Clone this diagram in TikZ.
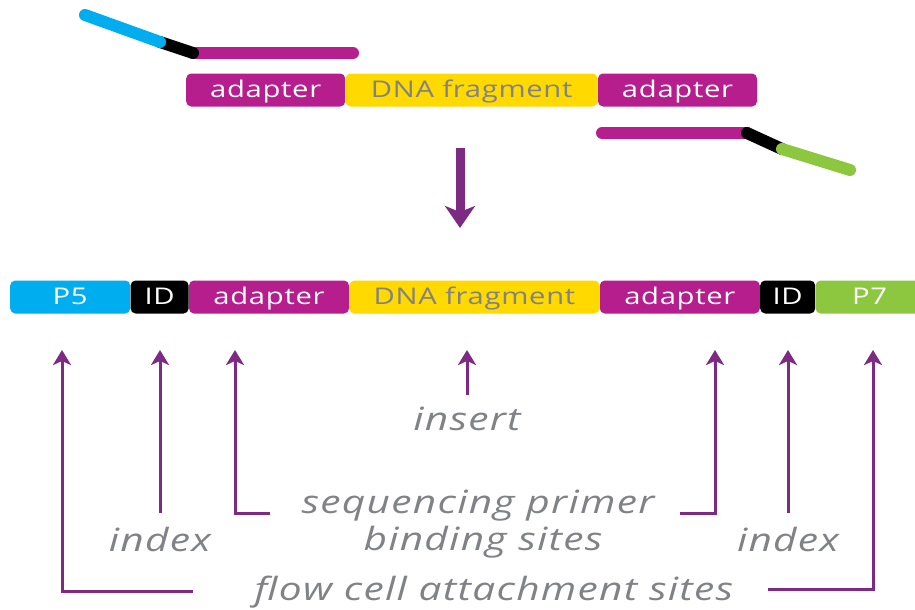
\documentclass[tikz,border=0pt]{standalone}
\usepackage{fontspec}
\setmainfont{Open Sans}
\newfontfamily\boxfont{Open Sans}[FakeStretch=1.27,LetterSpace=3]
\newfontfamily\labelfont{Open Sans}[FakeStretch=1.27,LetterSpace=4]
\usepackage{xcolor}
\definecolor{LibMagenta}{HTML}{B51E8C}
\definecolor{LibCyan}{HTML}{00AEEF}
\definecolor{LibYellow}{HTML}{FFD900}
\definecolor{LibGreen}{HTML}{8DC63F}
\definecolor{LibPurple}{HTML}{7D2A82}
\definecolor{LibGray}{HTML}{808285}
\usetikzlibrary{positioning,arrows.meta}
\tikzset{
  seg/.style={rounded corners=5pt,inner sep=0pt,minimum height=33pt,text height=17pt,text depth=3pt,text=white,font=\boxfont\fontsize{23}{26}\selectfont},
  segadapter/.style={seg,fill=LibMagenta,minimum width=159pt},
  segdna/.style={seg,fill=LibYellow,text=LibGray,minimum width=252pt},
  segid/.style={seg,fill=black},
  segp5/.style={seg,fill=LibCyan},
  segp7/.style={seg,fill=LibGreen},
  oligo/.style={line width=12pt,line cap=round},
  pointer/.style={-{Stealth[length=15pt,width=18pt,inset=4pt]},draw=LibPurple,line width=3pt},
  bigpointer/.style={-{Stealth[length=22pt,width=30pt,inset=6pt]},draw=LibPurple,line width=9pt},
  sitelabel/.style={font=\labelfont\itshape\fontsize{32}{38}\selectfont,text=LibGray,inner sep=0pt,anchor=base}
}
\begin{document}
\begin{tikzpicture}[x=1pt,y=-1pt]
  \useasboundingbox (0,0) rectangle (915,610);
  % adapter-ligated fragment
  \node[segadapter,anchor=west] (topadl) at (186,90) {adapter};
  \node[segdna,right=0pt of topadl] (topdna) {DNA fragment};
  \node[segadapter,right=0pt of topdna] (topadr) {adapter};
  % index oligos
  \coordinate (olA1) at (85,15);
  \coordinate (olA2) at (160,42);
  \coordinate (olA3) at (193,53);
  \coordinate (olA4) at (353,53);
  \draw[oligo,LibMagenta] (olA3) -- (olA4);
  \draw[oligo,black] (olA2) -- (olA3);
  \draw[oligo,LibCyan] (olA1) -- (olA2);
  \coordinate (olB1) at (602,133);
  \coordinate (olB2) at (747,133);
  \coordinate (olB3) at (782,149);
  \coordinate (olB4) at (850,170);
  \draw[oligo,LibMagenta] (olB1) -- (olB2);
  \draw[oligo,black] (olB2) -- (olB3);
  \draw[oligo,LibGreen] (olB3) -- (olB4);
  % final library molecule
  \node[segp5,minimum width=120pt,anchor=west] (p5) at (10,297) {P5};
  \node[segid,minimum width=58pt,right=0pt of p5] (idl) {ID};
  \node[segadapter,minimum width=160pt,right=0pt of idl] (adl) {adapter};
  \node[segdna,minimum width=250pt,right=0pt of adl] (dna) {DNA fragment};
  \node[segadapter,minimum width=160pt,right=0pt of dna] (adr) {adapter};
  \node[segid,minimum width=55pt,right=0pt of adr] (idr) {ID};
  \node[segp7,minimum width=108pt,right=0pt of idr] (p7) {P7};
  \coordinate (downtop) at (460,148);
  \coordinate (downtip) at (460,228);
  \draw[bigpointer] (downtop) -- (downtip);
  % labels
  \node[sitelabel] (insert) at (467,430) {insert};
  \node[sitelabel] (primer) at (478,513) {sequencing primer};
  \node[sitelabel] (binding) at (483,550) {binding sites};
  \node[sitelabel] (indexl) at (160,551) {index};
  \node[sitelabel] (indexr) at (788,551) {index};
  \node[sitelabel] (flow) at (494,600) {flow cell attachment sites};
  \coordinate (tipP5) at (62,350);
  \coordinate (tipIDl) at (160,350);
  \coordinate (tipADl) at (235,350);
  \coordinate (tipDNA) at (467,350);
  \coordinate (tipADr) at (715,350);
  \coordinate (tipIDr) at (788,350);
  \coordinate (tipP7) at (873,350);
  \coordinate (flowL) at (193,591);
  \coordinate (flowR) at (768,589);
  \coordinate (primL) at (270,513);
  \coordinate (primR) at (680,513);
  \draw[pointer] (flowL) -| (tipP5);
  \draw[pointer] (flowR) -| (tipP7);
  \draw[pointer] (primL) -| (tipADl);
  \draw[pointer] (primR) -| (tipADr);
  \draw[pointer] (tipIDl |- primL) -- (tipIDl);
  \draw[pointer] (tipIDr |- primR) -- (tipIDr);
  \draw[pointer] (467,395) -- (tipDNA);
\end{tikzpicture}
\end{document}
